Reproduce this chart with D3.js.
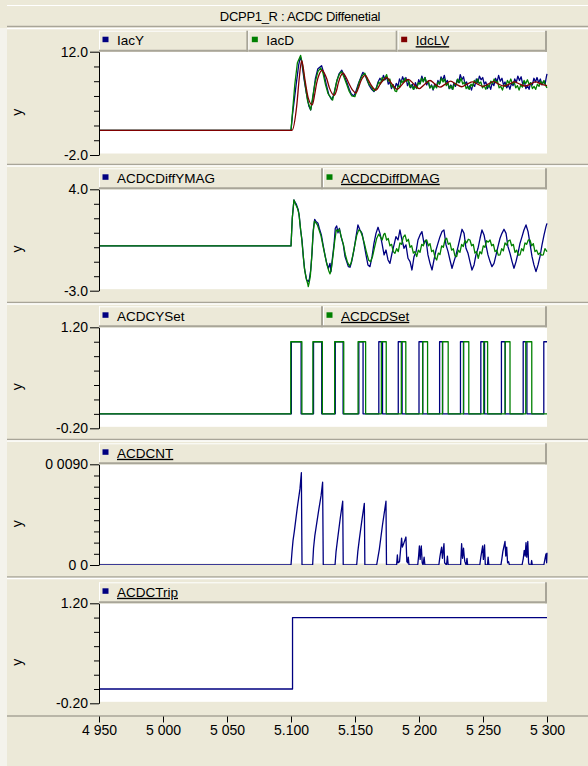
<!doctype html>
<html lang="en">
<head>
<meta charset="UTF-8">
<title>DCPP1_R : ACDC Diffenetial</title>
<style>
  body { margin: 0; background: #ECE9D8; }
  svg { display: block; font-family: "Liberation Sans", Arial, sans-serif; }
</style>
</head>
<body>
<div class="canvas"></div>
<script src="https://d3js.org/d3.v7.min.js"></script>
<script>
const chartTitle = 'DCPP1_R : ACDC Diffenetial';

// time axis (s)
const xDomain = [4.95, 5.3];
const xTicks = [4.95, 5.0, 5.05, 5.1, 5.15, 5.2, 5.25, 5.3];
const xTickLabels = ['4 950', '5 000', '5 050', '5.100', '5.150', '5 200', '5 250', '5 300'];

// ---- panel 1 : currents ----
const p1Names = ['IacY', 'IacD', 'IdcLV'];
const p1Domain = [-2, 12];
const p1TickLabels = ['-2.0', '12.0'];
const iacY = [[4.95,1.35],[5.1000,1.35],[5.1012,3.5],[5.1040,7.5],[5.1060,10.2],[5.1074,11.3],[5.1082,10.8],[5.1100,8.5],[5.1120,6.4],[5.1140,4.6],[5.1154,4.1],[5.1170,5.6],[5.1190,8.3],[5.1210,9.7],[5.1239,10.1],[5.1255,9.2],[5.1275,7.6],[5.1295,6.2],[5.1318,5.5],[5.1335,6.2],[5.1355,7.8],[5.1375,9.0],[5.1397,9.5],[5.1415,8.8],[5.1435,7.9],[5.1455,6.9],[5.1470,6.3],[5.1490,6.0],[5.1505,6.5],[5.1525,7.6],[5.1545,8.5],[5.1562,9.2],[5.1578,8.9],[5.1595,8.1],[5.1612,7.4],[5.1630,6.9],[5.1648,6.6],[5.1665,7.0],[5.1680,7.9],[5.1695,8.4],[5.1710,8.0],[5.1722,8.8],[5.1735,8.2],[5.1748,8.6],[5.1760,7.6],[5.1772,7.9],[5.1785,7.0],[5.1798,7.5],[5.1810,6.9],[5.1822,7.7],[5.1835,7.3],[5.1848,8.3],[5.1860,7.8],[5.1872,8.6],[5.1885,8.0],[5.1898,8.5],[5.1910,7.4],[5.1922,7.9],[5.1935,7.1],[5.1948,7.6],[5.1960,6.9],[5.1972,7.8],[5.1985,7.2],[5.1998,8.2],[5.2010,7.7],[5.2022,8.7],[5.2035,8.0],[5.2048,8.5],[5.2060,7.5],[5.2072,8.0],[5.2085,7.1],[5.2098,7.5],[5.2110,6.8],[5.2122,7.6],[5.2135,7.2],[5.2148,8.1],[5.2160,7.6],[5.2172,8.6],[5.2185,8.1],[5.2198,8.8],[5.2210,7.8],[5.2222,8.1],[5.2235,7.0],[5.2248,7.5],[5.2260,6.9],[5.2272,7.7],[5.2285,7.3],[5.2298,8.2],[5.2310,7.8],[5.2322,8.9],[5.2335,8.2],[5.2348,8.6],[5.2360,7.6],[5.2372,7.9],[5.2385,7.0],[5.2398,7.4],[5.2410,6.8],[5.2422,7.6],[5.2435,7.3],[5.2448,8.3],[5.2460,7.8],[5.2472,8.7],[5.2485,8.2],[5.2498,8.5],[5.2510,7.6],[5.2522,7.9],[5.2535,7.0],[5.2548,7.5],[5.2560,6.9],[5.2572,7.8],[5.2585,7.4],[5.2598,8.4],[5.2610,7.9],[5.2622,8.8],[5.2635,8.0],[5.2648,8.4],[5.2660,7.5],[5.2672,7.9],[5.2685,7.1],[5.2698,7.5],[5.2710,6.9],[5.2722,7.7],[5.2735,7.4],[5.2748,8.3],[5.2760,7.8],[5.2772,8.7],[5.2785,8.1],[5.2798,8.6],[5.2810,7.6],[5.2822,8.0],[5.2835,7.0],[5.2848,7.4],[5.2860,6.9],[5.2872,7.8],[5.2885,7.5],[5.2898,8.4],[5.2910,7.9],[5.2922,8.5],[5.2935,7.8],[5.2948,8.3],[5.2960,7.5],[5.2972,8.0],[5.2985,7.6],[5.2995,8.6],[5.3000,9.0]];
const iacD = [[4.95,1.35],[5.1000,1.35],[5.1008,3.0],[5.1030,7.6],[5.1050,10.5],[5.1075,11.5],[5.1090,10.2],[5.1110,7.6],[5.1130,5.3],[5.1154,4.1],[5.1170,5.9],[5.1187,7.7],[5.1210,9.3],[5.1232,9.8],[5.1250,9.1],[5.1270,7.5],[5.1290,6.3],[5.1305,5.9],[5.1325,5.45],[5.1340,6.6],[5.1360,8.2],[5.1380,9.0],[5.1395,9.3],[5.1415,8.5],[5.1435,7.6],[5.1455,6.6],[5.1475,6.0],[5.1499,5.9],[5.1515,6.8],[5.1535,8.0],[5.1555,8.7],[5.1577,9.1],[5.1595,8.2],[5.1612,7.5],[5.1630,7.2],[5.1645,6.7],[5.1658,6.8],[5.1670,7.2],[5.1685,7.9],[5.1698,7.6],[5.1712,8.5],[5.1725,8.1],[5.1747,8.9],[5.1760,8.0],[5.1772,8.3],[5.1785,7.2],[5.1798,7.5],[5.1812,6.7],[5.1825,6.6],[5.1838,7.4],[5.1850,7.2],[5.1862,8.1],[5.1875,7.8],[5.1890,8.4],[5.1903,8.0],[5.1915,8.2],[5.1928,7.2],[5.1940,7.5],[5.1955,6.9],[5.1968,7.3],[5.1982,7.0],[5.1995,7.8],[5.2008,7.6],[5.2020,8.4],[5.2033,7.9],[5.2046,8.5],[5.2060,7.8],[5.2072,8.0],[5.2085,7.1],[5.2098,7.4],[5.2112,6.9],[5.2125,7.5],[5.2138,7.1],[5.2150,7.9],[5.2163,7.7],[5.2176,8.4],[5.2188,7.9],[5.2200,8.3],[5.2213,7.4],[5.2226,7.7],[5.2240,7.0],[5.2252,7.4],[5.2265,6.9],[5.2278,7.7],[5.2290,7.5],[5.2303,8.3],[5.2316,7.8],[5.2329,8.4],[5.2342,7.6],[5.2355,7.9],[5.2368,7.0],[5.2380,7.3],[5.2393,6.9],[5.2406,7.6],[5.2419,7.3],[5.2432,8.1],[5.2445,7.7],[5.2458,8.3],[5.2470,7.7],[5.2483,7.9],[5.2496,7.1],[5.2509,7.4],[5.2522,6.9],[5.2535,7.5],[5.2548,7.2],[5.2561,8.0],[5.2574,7.7],[5.2587,8.3],[5.2600,7.8],[5.2613,8.0],[5.2626,7.1],[5.2639,7.3],[5.2652,6.8],[5.2665,7.5],[5.2678,7.3],[5.2691,8.1],[5.2704,7.7],[5.2717,8.3],[5.2730,7.6],[5.2743,7.9],[5.2756,7.1],[5.2769,7.4],[5.2782,6.8],[5.2795,7.5],[5.2808,7.2],[5.2821,8.1],[5.2834,7.7],[5.2847,8.2],[5.2860,7.6],[5.2873,7.8],[5.2886,7.0],[5.2899,7.3],[5.2912,6.9],[5.2925,7.6],[5.2938,7.3],[5.2951,8.0],[5.2964,7.6],[5.2977,8.1],[5.2990,7.4],[5.3000,7.1]];
const idcLV = [[4.95,1.35],[5.1008,1.35],[5.1044,4.55],[5.1065,8.5],[5.1083,10.8],[5.1095,9.9],[5.1109,8.2],[5.1135,5.7],[5.1166,4.8],[5.1185,6.2],[5.1200,7.7],[5.1220,8.9],[5.1244,9.5],[5.1260,9.1],[5.1278,8.4],[5.1300,7.1],[5.1338,6.1],[5.1355,6.7],[5.1369,7.7],[5.1388,8.7],[5.1408,9.1],[5.1428,8.6],[5.1447,7.9],[5.1481,6.8],[5.1507,6.4],[5.1525,7.0],[5.1545,8.0],[5.1582,8.8],[5.1600,8.3],[5.1625,7.5],[5.1664,6.8],[5.1700,7.7],[5.1747,8.5],[5.1790,7.6],[5.1830,6.9],[5.1870,7.6],[5.1916,8.25],[5.1960,7.6],[5.2002,7.0],[5.2045,7.6],[5.2086,8.1],[5.2125,7.6],[5.2164,7.2],[5.2205,7.6],[5.2247,8.0],[5.2290,7.6],[5.2333,7.25],[5.2375,7.6],[5.2419,7.9],[5.2458,7.6],[5.2498,7.3],[5.2540,7.6],[5.2580,7.95],[5.2622,7.6],[5.2664,7.35],[5.2705,7.6],[5.2746,7.9],[5.2788,7.6],[5.2830,7.35],[5.2870,7.6],[5.2912,7.9],[5.2955,7.6],[5.3000,7.4]];

// ---- panel 2 : differential magnitudes ----
const p2Names = ['ACDCDiffYMAG', 'ACDCDiffDMAG'];
const p2Domain = [-3, 4];
const p2TickLabels = ['-3.0', '4.0'];
const diffYMag = [[4.95,0.09],[5.1000,0.09],[5.1010,2.0],[5.1023,3.26],[5.1032,3.1],[5.1040,3.0],[5.1057,2.57],[5.1065,2.11],[5.1075,1.19],[5.1086,0.50],[5.1096,-0.65],[5.1107,-1.57],[5.1122,-2.26],[5.1135,-2.37],[5.1143,-2.21],[5.1154,-1.57],[5.1164,-0.42],[5.1174,1.19],[5.1185,1.93],[5.1195,1.77],[5.1211,1.65],[5.1221,1.31],[5.1237,0.85],[5.1253,0.04],[5.1268,-0.65],[5.1279,-1.11],[5.1292,-1.45],[5.1305,-1.11],[5.1312,-1.68],[5.1325,-0.65],[5.1336,0.16],[5.1346,1.31],[5.1357,1.47],[5.1367,1.0],[5.1378,1.31],[5.1391,0.73],[5.1409,0.16],[5.1422,-0.65],[5.1435,-0.99],[5.1448,-1.34],[5.1461,-1.38],[5.1474,-0.99],[5.1492,-0.19],[5.1508,0.73],[5.1523,1.54],[5.1539,1.19],[5.1555,0.96],[5.1570,0.27],[5.1586,-0.53],[5.1601,-1.22],[5.1617,-1.34],[5.1633,-0.65],[5.1648,0.27],[5.1664,0.96],[5.1680,1.38],[5.1695,0.96],[5.1711,0.27],[5.1727,-0.53],[5.1742,-0.19],[5.1758,-0.88],[5.1773,-1.11],[5.1789,-0.42],[5.1805,0.16],[5.1820,0.73],[5.1836,0.50],[5.1851,1.19],[5.1867,0.50],[5.1883,-0.07],[5.1898,0.16],[5.1914,-0.76],[5.1930,-0.99],[5.1945,-1.57],[5.1961,-0.65],[5.1977,-0.30],[5.1992,0.50],[5.2008,0.85],[5.2023,1.08],[5.2039,0.27],[5.2055,0.50],[5.2070,-0.53],[5.2086,-1.11],[5.2102,-1.57],[5.2117,-0.88],[5.2133,-0.19],[5.2148,0.27],[5.2164,0.73],[5.2180,1.08],[5.2195,1.19],[5.2211,0.16],[5.2227,-0.30],[5.2242,-0.88],[5.2258,-1.45],[5.2273,-0.99],[5.2289,-0.53],[5.2305,0.04],[5.2320,0.62],[5.2336,1.24],[5.2352,0.96],[5.2367,-0.07],[5.2383,-0.42],[5.2398,-0.99],[5.2414,-1.57],[5.2430,-1.22],[5.2445,-0.53],[5.2461,-0.07],[5.2477,0.62],[5.2492,1.19],[5.2508,0.85],[5.2523,0.16],[5.2539,-0.53],[5.2555,-0.99],[5.2570,-1.34],[5.2586,-1.11],[5.2602,-0.53],[5.2617,0.04],[5.2633,0.62],[5.2648,0.96],[5.2664,1.24],[5.2680,0.96],[5.2695,0.04],[5.2711,-0.42],[5.2727,-0.99],[5.2742,-1.45],[5.2758,-0.99],[5.2773,-0.42],[5.2789,0.27],[5.2805,0.73],[5.2820,1.19],[5.2836,1.54],[5.2852,1.08],[5.2867,0.27],[5.2883,-0.65],[5.2898,-1.22],[5.2914,-1.68],[5.2930,-1.22],[5.2945,-0.65],[5.2961,0.16],[5.2977,0.85],[5.2992,1.42],[5.3000,1.65]];
const diffDMag = [[4.95,0.09],[5.1000,0.09],[5.1010,2.0],[5.1023,3.26],[5.1034,3.0],[5.1050,2.7],[5.1062,2.3],[5.1073,1.4],[5.1083,0.6],[5.1094,-0.4],[5.1104,-1.4],[5.1117,-2.1],[5.1130,-2.5],[5.1135,-2.72],[5.1143,-2.4],[5.1151,-2.0],[5.1161,-0.8],[5.1172,0.9],[5.1183,1.8],[5.1193,1.7],[5.1206,1.55],[5.1219,1.2],[5.1234,0.8],[5.1250,0.1],[5.1266,-0.6],[5.1281,-1.2],[5.1294,-1.6],[5.1305,-1.84],[5.1315,-1.5],[5.1328,-0.6],[5.1341,0.4],[5.1354,1.2],[5.1365,1.1],[5.1378,1.25],[5.1393,0.7],[5.1409,0.2],[5.1424,-0.5],[5.1440,-1.0],[5.1456,-1.3],[5.1469,-1.1],[5.1482,-0.6],[5.1497,0.1],[5.1513,0.8],[5.1529,1.2],[5.1544,1.1],[5.1560,0.7],[5.1575,0.2],[5.1591,-0.4],[5.1607,-0.9],[5.1622,-1.0],[5.1638,-0.6],[5.1653,0.0],[5.1669,0.6],[5.1685,0.9],[5.1700,0.7],[5.1712,0.5],[5.1725,0.9],[5.1734,0.96],[5.1747,0.5],[5.1760,0.6],[5.1773,0.1],[5.1786,0.2],[5.1799,-0.3],[5.1812,-0.42],[5.1825,-0.1],[5.1838,-0.3],[5.1851,0.3],[5.1864,0.2],[5.1877,0.7],[5.1891,0.85],[5.1904,0.4],[5.1917,0.55],[5.1930,0.0],[5.1943,0.1],[5.1956,-0.4],[5.1969,-0.3],[5.1982,-0.65],[5.1995,-0.2],[5.2008,-0.35],[5.2021,0.2],[5.2034,0.1],[5.2047,0.45],[5.2060,0.5],[5.2073,0.1],[5.2086,0.25],[5.2099,-0.3],[5.2112,-0.2],[5.2125,-0.7],[5.2138,-0.88],[5.2151,-0.4],[5.2164,-0.5],[5.2177,0.1],[5.2190,0.0],[5.2203,0.5],[5.2216,0.62],[5.2229,0.2],[5.2242,0.3],[5.2255,-0.2],[5.2268,-0.1],[5.2281,-0.6],[5.2294,-0.65],[5.2307,-0.2],[5.2320,-0.35],[5.2333,0.2],[5.2346,0.05],[5.2359,0.45],[5.2372,0.3],[5.2385,0.55],[5.2398,0.5],[5.2411,0.1],[5.2424,0.2],[5.2437,-0.4],[5.2450,-0.3],[5.2463,-0.76],[5.2476,-0.3],[5.2489,-0.45],[5.2502,0.1],[5.2515,0.0],[5.2528,0.45],[5.2541,0.35],[5.2555,0.5],[5.2568,0.1],[5.2581,0.2],[5.2594,-0.3],[5.2607,-0.2],[5.2620,-0.55],[5.2633,-0.53],[5.2646,-0.1],[5.2659,-0.25],[5.2672,0.3],[5.2685,0.15],[5.2698,0.45],[5.2711,0.5],[5.2724,0.1],[5.2737,0.2],[5.2750,-0.35],[5.2763,-0.2],[5.2776,-0.55],[5.2789,-0.53],[5.2802,-0.1],[5.2815,-0.25],[5.2828,0.3],[5.2841,0.2],[5.2854,0.5],[5.2867,0.5],[5.2880,0.1],[5.2893,0.25],[5.2906,-0.3],[5.2919,-0.2],[5.2932,-0.5],[5.2945,-0.4],[5.2958,-0.55],[5.2971,-0.53],[5.2984,-0.1],[5.3000,-0.3]];

// ---- panel 3 : set flags (toggle times, start at 0) ----
const p3Names = ['ACDCYSet', 'ACDCDSet'];
const p3Domain = [-0.2, 1.2];
const p3TickLabels = ['-0.20', '1.20'];
const ySetEdges = [5.1003, 5.1079, 5.1176, 5.1240, 5.1346, 5.1407, 5.1530, 5.1563, 5.1686, 5.1715, 5.1838, 5.1868, 5.2000, 5.2029, 5.2161, 5.2184, 5.2324, 5.2348, 5.2483, 5.2512, 5.2644, 5.2673, 5.2814, 5.2843, 5.2975];
const dSetEdges = [5.0998, 5.1085, 5.1171, 5.1245, 5.1341, 5.1412, 5.1524, 5.1583, 5.1706, 5.1744, 5.1862, 5.1897, 5.2029, 5.2067, 5.2184, 5.2228, 5.2348, 5.2389, 5.2506, 5.2536, 5.2673, 5.2711, 5.2834, 5.2881];

// ---- panel 4 : counter ----
const p4Names = ['ACDCNT'];
const p4Domain = [0, 0.009];
const p4TickLabels = ['0 0', '0 0090'];
const acdcnt = [[4.95,0],[5.1000,0],[5.1008,0.0012],[5.1016,0.0022],[5.1026,0.0030],[5.1050,0.0052],[5.1070,0.0068],[5.1081,0.00825],[5.1086,0],[5.1169,0],[5.1176,0.0015],[5.1186,0.0026],[5.1215,0.0048],[5.1235,0.0062],[5.1247,0.0074],[5.1252,0],[5.1344,0],[5.1352,0.0012],[5.1365,0.0024],[5.1385,0.0042],[5.1404,0.0057],[5.1408,0],[5.1513,0],[5.1522,0.0012],[5.1535,0.0024],[5.1555,0.0041],[5.1573,0.0055],[5.1577,0],[5.1669,0],[5.1678,0.0006],[5.1690,0.0014],[5.1715,0.0036],[5.1742,0.0057],[5.1746,0],[5.1825,0],[5.1831,0.0009],[5.1836,0.0002],[5.1848,0.0003],[5.1864,0.0024],[5.1870,0.0016],[5.1877,0.0018],[5.1898,0.0025],[5.1905,0.0003],[5.1912,0.0002],[5.1916,0.0007],[5.1922,0],[5.1990,0],[5.1997,0.0008],[5.2003,0.0017],[5.2009,0.0005],[5.2013,0.0012],[5.2018,0.0017],[5.2025,0.0002],[5.2032,0],[5.2040,0.0007],[5.2046,0],[5.2155,0],[5.2163,0.0007],[5.2170,0.0012],[5.2177,0.0016],[5.2183,0.0006],[5.2195,0.0019],[5.2200,0.0002],[5.2215,0],[5.2222,0.0008],[5.2228,0],[5.2325,0],[5.2333,0.0019],[5.2340,0.0006],[5.2348,0.0015],[5.2353,0.0008],[5.2358,0.0003],[5.2368,0],[5.2375,0.0006],[5.2380,0],[5.2475,0],[5.2483,0.0007],[5.2490,0.0012],[5.2497,0.0017],[5.2503,0.0005],[5.2512,0.0018],[5.2518,0],[5.2535,0],[5.2540,0.0007],[5.2546,0],[5.2640,0],[5.2648,0.0006],[5.2655,0.0012],[5.2672,0.0021],[5.2678,0.0008],[5.2685,0.0016],[5.2692,0.0002],[5.2700,0.0003],[5.2706,0],[5.2805,0],[5.2815,0.0006],[5.2822,0.0013],[5.2830,0.0008],[5.2836,0.0020],[5.2842,0.0007],[5.2850,0.0021],[5.2856,0.0002],[5.2862,0],[5.2875,0],[5.2880,0.0004],[5.2885,0],[5.2975,0],[5.2985,0.0006],[5.2992,0.0010],[5.2997,0.0002],[5.3000,0.0011]];

// ---- panel 5 : trip ----
const p5Names = ['ACDCTrip'];
const p5Domain = [-0.2, 1.2];
const p5TickLabels = ['-0.20', '1.20'];
const tripEdges = [5.1012];

const BLUE = '#000080', GREEN = '#008000', RED = '#800000';
const BG = '#ECE9D8', SHADOW = '#A8A598';

// step signals from toggle times
const toSteps = (edges) => {
    const pts = [[xDomain[0], 0]];
    let v = 0;
    edges.forEach(t => { v = 1 - v; pts.push([t, v]); });
    pts.push([xDomain[1], v]);
    return pts;
};

const panels = [
    { names: p1Names, domain: p1Domain, labels: p1TickLabels, ticks: 7,
      series: [iacY, iacD, idcLV], colors: [BLUE, GREEN, RED], curves: [d3.curveLinear, d3.curveLinear, d3.curveMonotoneX] },
    { names: p2Names, domain: p2Domain, labels: p2TickLabels, ticks: 7,
      series: [diffYMag, diffDMag], colors: [BLUE, GREEN], curves: [d3.curveLinear, d3.curveLinear] },
    { names: p3Names, domain: p3Domain, labels: p3TickLabels, ticks: 7,
      series: [toSteps(ySetEdges), toSteps(dSetEdges)], colors: [BLUE, GREEN], curves: [d3.curveStepAfter, d3.curveStepAfter] },
    { names: p4Names, domain: p4Domain, labels: p4TickLabels, ticks: 9,
      series: [acdcnt], colors: [BLUE], curves: [d3.curveLinear] },
    { names: p5Names, domain: p5Domain, labels: p5TickLabels, ticks: 7,
      series: [toSteps(tripEdges)], colors: [BLUE], curves: [d3.curveStepAfter] }
];

const svgWidth = 588, svgHeight = 766;
const xLeft = 99, xRight = 547;
const plotTops = [51.7, 189.3, 327.3, 464.3, 603.3];
const plotBottoms = [155, 290.7, 428.3, 565, 703.3];
const boxTops = [28.5, 166, 304, 441, 578.5];
const boxBottoms = [164.5, 302.5, 439.5, 577, 716];
const headerH = 21;

const svg = d3.select('.canvas').append('svg')
    .attr('width', svgWidth)
    .attr('height', svgHeight);

svg.append('rect').attr('width', svgWidth).attr('height', svgHeight).attr('fill', BG);
svg.append('rect').attr('x', 0).attr('y', 28).attr('width', 7).attr('height', 738).attr('fill', '#F4F3EC');

// title bar
svg.append('rect').attr('x', 7).attr('y', 5).attr('width', svgWidth - 7).attr('height', 21).attr('fill', BG);
svg.append('line').attr('x1', 7).attr('x2', svgWidth).attr('y1', 5.5).attr('y2', 5.5).attr('stroke', '#fff');
svg.append('line').attr('x1', 7).attr('x2', svgWidth).attr('y1', 26.5).attr('y2', 26.5).attr('stroke', SHADOW).attr('stroke-width', 1.5);
svg.append('text')
    .attr('x', 300).attr('y', 16)
    .attr('text-anchor', 'middle')
    .attr('dominant-baseline', 'central')
    .attr('font-size', 13)
    .attr('letter-spacing', -0.3)
    .text(chartTitle);

const x = d3.scaleLinear().domain(xDomain).range([xLeft, xRight]);

panels.forEach((p, i) => {
    const top = plotTops[i], bottom = plotBottoms[i];
    const y = d3.scaleLinear().domain(p.domain).range([bottom, top]);
    const g = svg.append('g');

    // panel frame
    g.append('rect').attr('x', 7).attr('y', boxTops[i]).attr('width', svgWidth - 7)
        .attr('height', boxBottoms[i] - boxTops[i]).attr('fill', BG);
    g.append('line').attr('x1', 7).attr('x2', svgWidth).attr('y1', boxTops[i]).attr('y2', boxTops[i])
        .attr('stroke', '#fff').attr('stroke-width', 1.5);
    g.append('line').attr('x1', 7).attr('x2', svgWidth).attr('y1', boxBottoms[i]).attr('y2', boxBottoms[i])
        .attr('stroke', SHADOW).attr('stroke-width', 1.5);

    // plot background
    g.append('rect').attr('x', xLeft).attr('y', top).attr('width', xRight - xLeft)
        .attr('height', bottom - top - 1.5).attr('fill', '#fff');

    // legend header cells
    const hTop = top - headerH;
    const cellW = (xRight - xLeft) / p.names.length;
    p.names.forEach((name, j) => {
        const cx = xLeft + j * cellW;
        const cell = g.append('g');
        cell.append('rect').attr('x', cx).attr('y', hTop).attr('width', cellW).attr('height', headerH).attr('fill', BG);
        cell.append('line').attr('x1', cx).attr('x2', cx + cellW).attr('y1', hTop + 0.5).attr('y2', hTop + 0.5).attr('stroke', '#fff');
        cell.append('line').attr('x1', cx + 0.5).attr('x2', cx + 0.5).attr('y1', hTop).attr('y2', top).attr('stroke', '#fff');
        cell.append('line').attr('x1', cx + cellW - 1).attr('x2', cx + cellW - 1).attr('y1', hTop).attr('y2', top)
            .attr('stroke', SHADOW).attr('stroke-width', 2);
        cell.append('line').attr('x1', cx).attr('x2', cx + cellW).attr('y1', top - 1).attr('y2', top - 1)
            .attr('stroke', SHADOW).attr('stroke-width', 2);
        cell.append('rect').attr('x', cx + 3.5).attr('y', hTop + 6).attr('width', 6).attr('height', 5.5).attr('fill', p.colors[j]);
        cell.append('text')
            .attr('x', cx + 18).attr('y', hTop + 14.5)
            .attr('font-size', 13.5)
            .attr('text-decoration', j === p.names.length - 1 ? 'underline' : null)
            .text(name);
    });

    // series
    const clipId = 'clip' + i;
    svg.append('clipPath').attr('id', clipId)
        .append('rect').attr('x', xLeft).attr('y', top - 1).attr('width', xRight - xLeft + 1).attr('height', bottom - top + 1);
    p.series.forEach((s, j) => {
        const line = d3.line().x(d => x(d[0])).y(d => y(d[1])).curve(p.curves[j]);
        g.append('path')
            .datum(s)
            .attr('clip-path', `url(#${clipId})`)
            .attr('fill', 'none')
            .attr('stroke', p.colors[j])
            .attr('stroke-width', 1.3)
            .attr('stroke-linejoin', 'round')
            .attr('d', line);
    });

    // y axis
    const tv = y.ticks(p.ticks);
    const last = tv.length - 1;
    const yAxis = d3.axisLeft(y)
        .tickValues(tv)
        .tickSize(5)
        .tickSizeOuter(0)
        .tickFormat((d, k) => k === 0 ? p.labels[0] : (k === last ? p.labels[1] : ''));
    const ag = g.append('g').attr('transform', `translate(${xLeft},0)`).call(yAxis);
    ag.attr('font-size', 14).attr('font-family', '"Liberation Sans", Arial, sans-serif');
    ag.selectAll('.tick').filter((d, k) => k === 0 || k === last).select('line').attr('x2', -9);
    ag.selectAll('.tick text').attr('x', -11).attr('fill', '#000');
    ag.selectAll('line, path').attr('stroke', '#000');

    // y label
    const ly = (top + bottom) / 2 + 9;
    g.append('text')
        .attr('transform', `translate(22, ${ly}) rotate(-90)`)
        .attr('text-anchor', 'middle')
        .attr('font-size', 14)
        .text('y');
});

// x axis
const xAxis = d3.axisBottom(x)
    .tickValues(xTicks)
    .tickSize(6)
    .tickSizeOuter(0)
    .tickFormat((d, i) => xTickLabels[i]);
const xg = svg.append('g').attr('transform', 'translate(0, 716.5)').call(xAxis);
xg.attr('font-size', 14).attr('font-family', '"Liberation Sans", Arial, sans-serif');
xg.select('.domain').remove();
xg.selectAll('.tick line').attr('stroke', '#000');
xg.selectAll('.tick text').attr('fill', '#000').attr('y', 9);
</script>
</body>
</html>
